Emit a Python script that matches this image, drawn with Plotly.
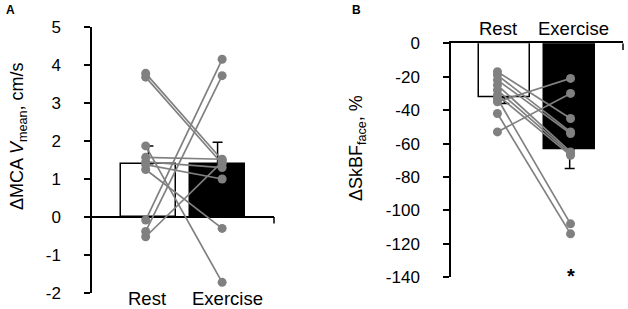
import plotly.graph_objects as go

# ---------------- data ----------------
categories = ["Rest", "Exercise"]

# Panel A: ΔMCA Vmean (cm/s)
mca_means = [1.40, 1.40]
mca_se_up = [0.47, 0.57]
mca_rest = [3.78, 3.68, 1.87, 1.57, 1.45, 1.38, 1.25, -0.08, -0.38, -0.52]
mca_exercise = [1.50, 1.40, -1.72, 1.52, 1.30, 1.00, -0.30, 4.15, 3.72, 1.45]
mca_ticks = [5, 4, 3, 2, 1, 0, -1, -2]
mca_ticktext = ["5", "4", "3", "2", "1", "0", "-1", "-2"]

# Panel B: ΔSkBF face (%)
skbf_means = [-32.5, -63.7]
skbf_se_down = [3.5, 11.2]
skbf_rest = [-53, -35, -42, -33, -17, -19, -22, -25, -28, -31]
skbf_exercise = [-30, -21, -114, -108, -45, -53, -54, -65, -66, -67]
skbf_ticks = [0, -20, -40, -60, -80, -100, -120, -140]
skbf_ticktext = ["0", "-20", "-40", "-60", "-80", "-100", "-120", "-140"]

# ---------------- styling / layout constants ----------------
FONT = "Liberation Sans, Arial, sans-serif"
GREY = "#808080"
BAR_POS = [0.62, 1.38]
BAR_W = 0.6
PT_POS_A = [0.59, 1.43]
PT_POS_B = [0.54, 1.39]
LBL_POS_A = [0.60, 1.49]
LBL_POS_B = [0.55, 1.42]
FS = 17
FS_CAT = 18.5
FS_TITLE = 18

W, H = 628, 309
fig = go.Figure()

# ---- Panel A bars ----
fig.add_trace(go.Bar(
    x=BAR_POS, y=mca_means, width=BAR_W,
    marker=dict(color=["white", "black"], line=dict(color="black", width=1.5)),
    error_y=dict(type="data", symmetric=False, array=mca_se_up, arrayminus=[0, 0],
                 color="black", thickness=1.5, width=5),
    xaxis="x", yaxis="y", showlegend=False, hoverinfo="skip"))

for r, e in zip(mca_rest, mca_exercise):
    fig.add_trace(go.Scatter(
        x=PT_POS_A, y=[r, e], mode="lines+markers",
        line=dict(color=GREY, width=1.7), marker=dict(color=GREY, size=9),
        xaxis="x", yaxis="y", showlegend=False, hoverinfo="skip"))

# ---- Panel B bars ----
fig.add_trace(go.Bar(
    x=BAR_POS, y=skbf_means, width=BAR_W,
    marker=dict(color=["white", "black"], line=dict(color="black", width=1.5)),
    error_y=dict(type="data", symmetric=False, array=[0, 0], arrayminus=skbf_se_down,
                 color="black", thickness=1.5, width=5),
    xaxis="x2", yaxis="y2", showlegend=False, hoverinfo="skip"))

for r, e in zip(skbf_rest, skbf_exercise):
    fig.add_trace(go.Scatter(
        x=PT_POS_B, y=[r, e], mode="lines+markers",
        line=dict(color=GREY, width=1.7), marker=dict(color=GREY, size=9),
        xaxis="x2", yaxis="y2", showlegend=False, hoverinfo="skip"))

axis_common = dict(showgrid=False, color="black", automargin=False,
                   tickfont=dict(family=FONT, size=FS, color="black"))

fig.update_layout(
    width=W, height=H,
    margin=dict(l=0, r=0, t=0, b=0),
    paper_bgcolor="white", plot_bgcolor="white",
    font=dict(family=FONT, size=FS, color="black"),
    xaxis=dict(domain=[92 / W, 274 / W], range=[0, 2], showline=False,
               showticklabels=False, ticks="", zeroline=False, showgrid=False,
               automargin=False, anchor="y"),
    yaxis=dict(domain=[1 - 293 / H, 1 - 27 / H], range=[-2, 5],
               tickvals=mca_ticks, ticktext=mca_ticktext,
               showline=True, linecolor="black", linewidth=1.5,
               ticks="outside", ticklen=6, tickwidth=1.5, tickcolor="black",
               ticklabelstandoff=20,
               zeroline=True, zerolinecolor="black", zerolinewidth=1.5,
               anchor="x", **axis_common),
    xaxis2=dict(domain=[451 / W, 623 / W], range=[0, 2], side="top",
                showline=True, linecolor="black", linewidth=1.5,
                showticklabels=False, ticks="", zeroline=False, showgrid=False,
                automargin=False, anchor="y2"),
    yaxis2=dict(domain=[1 - 277.3 / H, 1 - 43.3 / H], range=[-140, 0],
                tickvals=skbf_ticks, ticktext=skbf_ticktext,
                showline=True, linecolor="black", linewidth=1.5,
                ticks="outside", ticklen=6, tickwidth=1.5, tickcolor="black",
                ticklabelstandoff=20, zeroline=False,
                anchor="x2", **axis_common),
    bargap=0,
)

# right-end category ticks
fig.add_shape(type="line", xref="x domain", yref="y", x0=1, x1=1, y0=0, y1=-0.17,
              line=dict(color="black", width=1.5))
fig.add_shape(type="line", xref="x2 domain", yref="y2", x0=1, x1=1, y0=0, y1=-4,
              line=dict(color="black", width=1.5))

ann = []
# category labels
for c, p in zip(categories, LBL_POS_A):
    ann.append(dict(x=p, xref="x", y=1 - 298 / H, yref="paper", text=c,
                    showarrow=False, font=dict(size=FS_CAT), xanchor="center", yanchor="middle"))
for c, p in zip(categories, LBL_POS_B):
    ann.append(dict(x=p, xref="x2", y=1 - 28 / H, yref="paper", text=c,
                    showarrow=False, font=dict(size=FS_CAT), xanchor="center", yanchor="middle"))
# axis titles
ann.append(dict(x=18 / W, y=1 - 136 / H, xref="paper", yref="paper",
                text="ΔMCA <i>V</i><sub>mean</sub>, cm/s", textangle=-90,
                showarrow=False, font=dict(size=FS_TITLE), xanchor="center", yanchor="middle"))
ann.append(dict(x=357 / W, y=1 - 148 / H, xref="paper", yref="paper",
                text="ΔSkBF<sub>face</sub>, %", textangle=-90,
                showarrow=False, font=dict(size=FS_TITLE), xanchor="center", yanchor="middle"))
# panel letters
ann.append(dict(x=10 / W, y=1 - 10 / H, xref="paper", yref="paper", text="<b>A</b>",
                showarrow=False, font=dict(size=12), xanchor="center", yanchor="middle"))
ann.append(dict(x=356 / W, y=1 - 10 / H, xref="paper", yref="paper", text="<b>B</b>",
                showarrow=False, font=dict(size=12), xanchor="center", yanchor="middle"))
# significance asterisk
ann.append(dict(x=PT_POS_B[1], xref="x2", y=1 - 276 / H, yref="paper", text="<b>*</b>",
                showarrow=False, font=dict(size=20), xanchor="center", yanchor="middle"))

fig.update_layout(annotations=ann)
fig.write_html("out.html", config={"displayModeBar": False},
               post_script="document.body.style.margin='0';document.body.style.overflow='hidden';")
